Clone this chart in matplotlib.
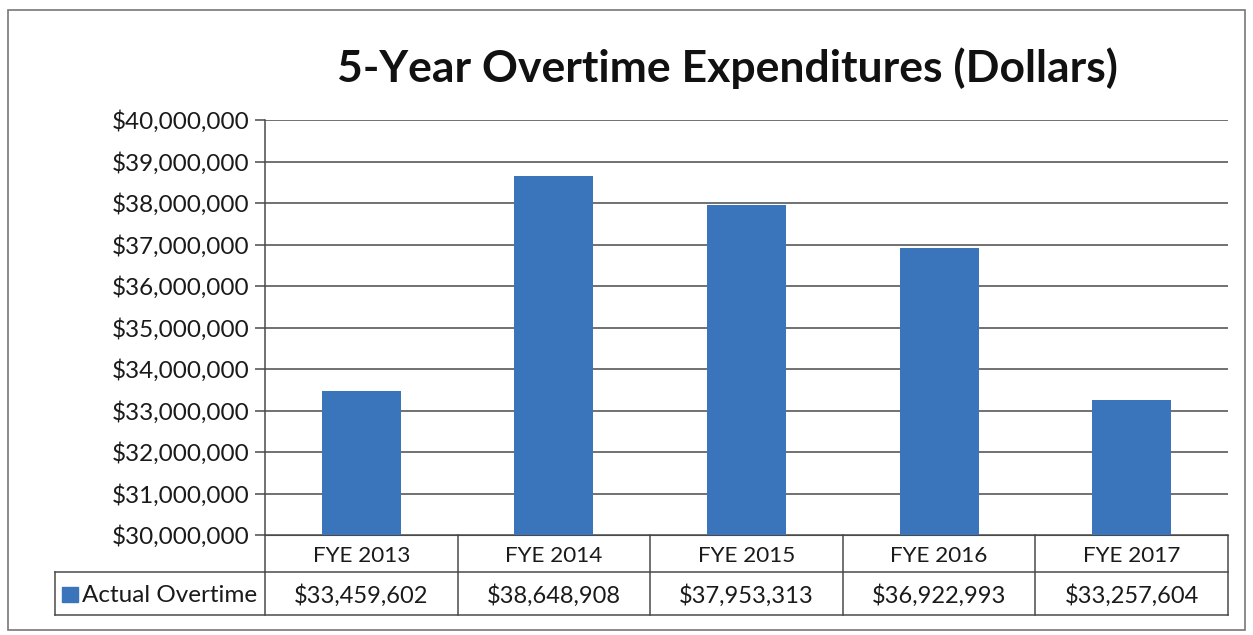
import matplotlib
matplotlib.use("Agg")
import matplotlib.pyplot as plt
from matplotlib.patches import Rectangle
from matplotlib.ticker import FuncFormatter, MultipleLocator

categories = ["FYE 2013", "FYE 2014", "FYE 2015", "FYE 2016", "FYE 2017"]
values = [33459602, 38648908, 37953313, 36922993, 33257604]
series_name = "Actual Overtime"
title = "5-Year Overtime Expenditures (Dollars)"

plt.rcParams['font.family'] = ['Lato', 'DejaVu Sans']
bar_color = "#3A75BC"
line_color = "#4a4a4a"
text_color = "#1a1a1a"

W, H = 1253, 635
fig = plt.figure(figsize=(W/100, H/100), dpi=100)

# outer border
fig.patches.append(Rectangle((8/W, 1-630/H), (1245-8)/W, (630-10)/H, transform=fig.transFigure,
                             fill=False, edgecolor="#777777", linewidth=1.2))

left, right, top, bottom = 265, 1228, 120, 535
ax = fig.add_axes([left/W, 1-bottom/H, (right-left)/W, (bottom-top)/H])

x = list(range(len(categories)))
ax.bar(x, values, width=0.41, color=bar_color, zorder=3)
ax.set_xlim(-0.5, len(categories)-0.5)
ax.set_ylim(30000000, 40000000)
ax.yaxis.set_major_locator(MultipleLocator(1000000))
ax.yaxis.set_major_formatter(FuncFormatter(lambda v, p: "${:,.0f}".format(v)))
ax.grid(axis='y', color=line_color, linewidth=1.1, zorder=0)
ax.tick_params(axis='y', labelsize=17.5, length=7, color=line_color, width=1.1, pad=4, labelcolor=text_color)
ax.tick_params(axis='x', bottom=False, labelbottom=False)
for s in ["top", "right"]:
    ax.spines[s].set_visible(False)
ax.spines["left"].set_color(line_color)
ax.spines["bottom"].set_color(line_color)
ax.spines["left"].set_linewidth(1.1)

fig.text(727/W, 1-68/H, title, ha='center', va='center', fontsize=32, fontweight='bold', color="#111111")

# data table below axis
row1_top, row1_bot, row2_bot = 535, 572, 615
legend_left = 55
def fy(y):
    return 1 - y/H
def fx(xp):
    return xp/W
tr = fig.transFigure
lw = 1.1
fig.add_artist(plt.Line2D([fx(left), fx(right)], [fy(row1_bot)]*2, transform=tr, color=line_color, lw=lw))
fig.add_artist(plt.Line2D([fx(legend_left), fx(left)], [fy(row1_bot)]*2, transform=tr, color=line_color, lw=lw))
fig.add_artist(plt.Line2D([fx(legend_left), fx(right)], [fy(row2_bot)]*2, transform=tr, color=line_color, lw=lw))
fig.add_artist(plt.Line2D([fx(legend_left)]*2, [fy(row1_bot), fy(row2_bot)], transform=tr, color=line_color, lw=lw))
n = len(categories)
colw = (right-left)/n
for i in range(n+1):
    xp = left + i*colw
    fig.add_artist(plt.Line2D([fx(xp)]*2, [fy(row1_top), fy(row2_bot)], transform=tr, color=line_color, lw=lw))
for i, (c, v) in enumerate(zip(categories, values)):
    xc = left + (i+0.5)*colw
    fig.text(fx(xc), fy((row1_top+row1_bot)/2+2), c, ha='center', va='center', fontsize=16.2, color=text_color)
    fig.text(fx(xc), fy((row1_bot+row2_bot)/2+2), "${:,.0f}".format(v), ha='center', va='center', fontsize=17, color=text_color)
# legend cell
fig.patches.append(Rectangle((fx(62), fy(602)), 16/W, 15/H, transform=tr, color=bar_color))
fig.text(fx(82), fy((row1_bot+row2_bot)/2+2), series_name, ha='left', va='center', fontsize=17.5, color=text_color)

fig.savefig("out.png", dpi=100)
